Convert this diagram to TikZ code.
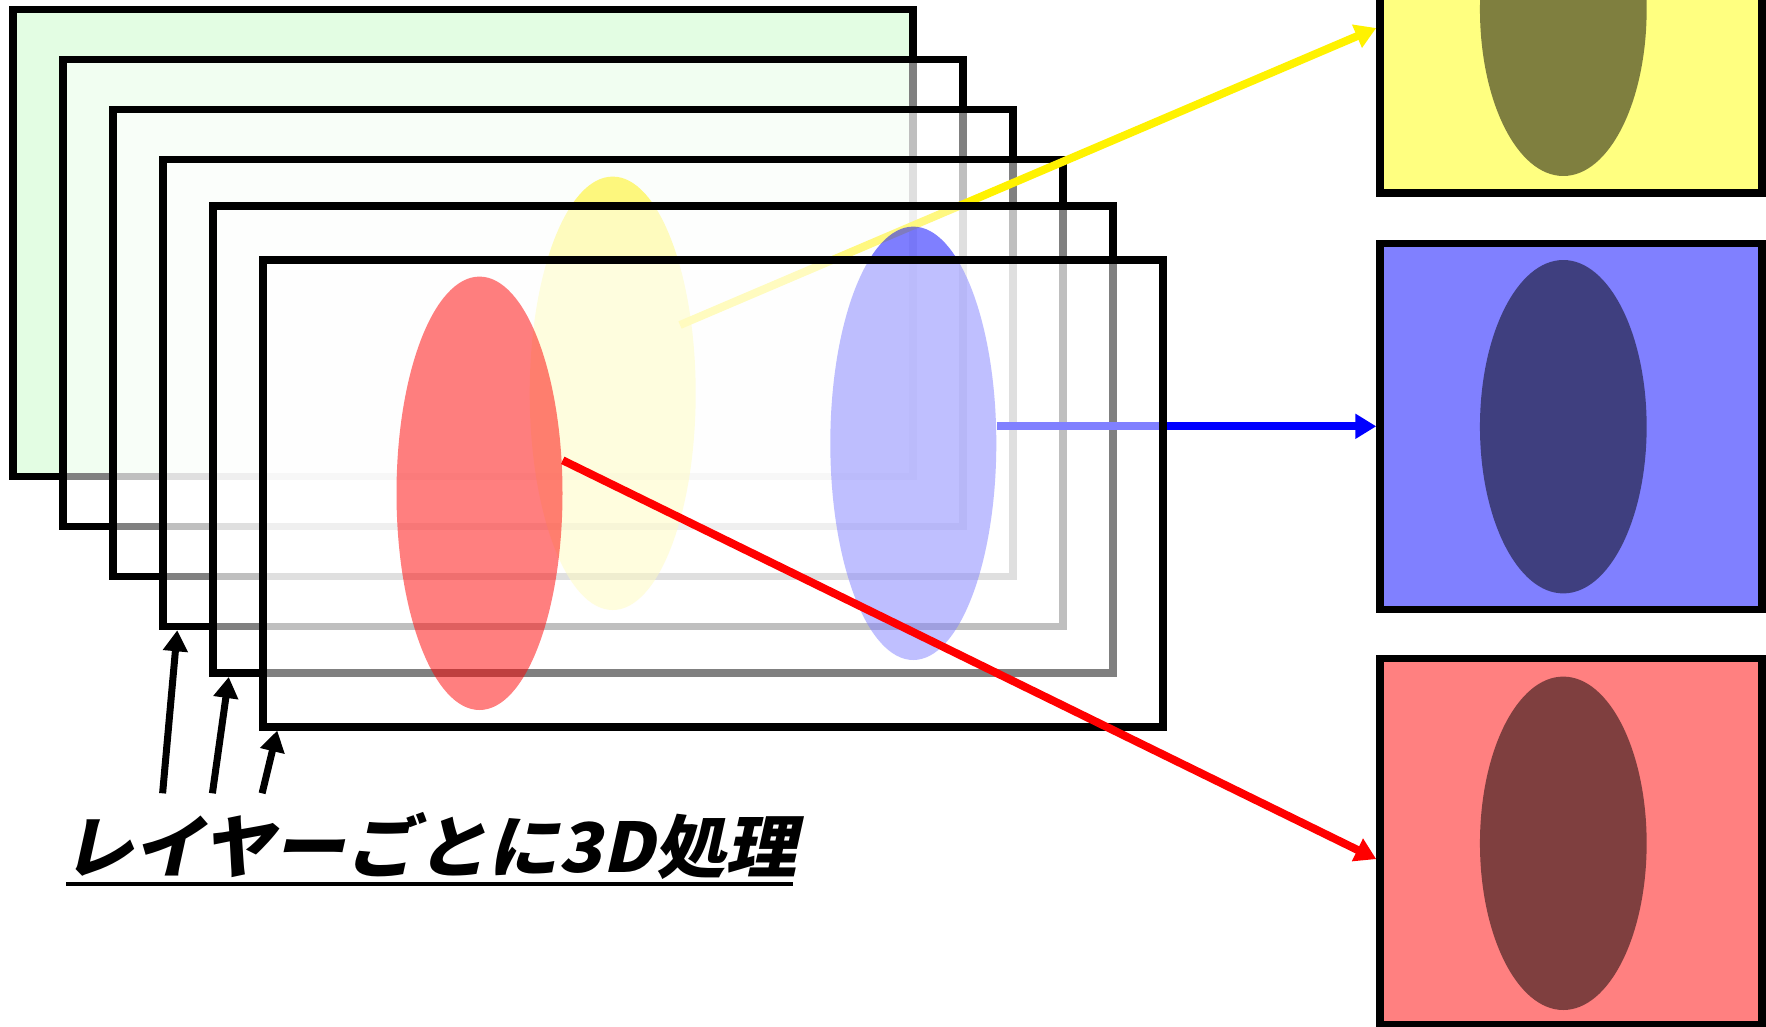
\documentclass[tikz,border=0pt]{standalone}
\usepackage{fontspec}
\newfontfamily\jpfont[FakeSlant=0.22, FakeStretch=1.04]{Noto Sans CJK JP}
\usetikzlibrary{arrows.meta,calc,shapes.geometric}
\definecolor{frgreen}{HTML}{E3FDE3}
\begin{document}
\begin{tikzpicture}[x=1pt,y=-1pt,
  layer/.style={draw=black, line width=7.5pt, minimum width=900pt, minimum height=467pt,
    inner sep=0pt, fill=white, fill opacity=0.5},
  blob/.style={ellipse, draw=none, inner sep=0pt, minimum width=166pt, minimum height=433.4pt, fill opacity=0.5},
  outbox/.style={rectangle, draw=black, line width=7.5pt, minimum width=382pt, minimum height=366pt, inner sep=0pt},
  shade/.style={ellipse, draw=none, inner sep=0pt, minimum width=166.7pt, minimum height=333.4pt, fill=black, fill opacity=0.5},
  carrow/.style={line width=8pt, -{Triangle[length=21pt,width=24pt]}},
  karrow/.style={line width=7pt, black, -{Triangle[length=21pt,width=24pt]}}]
\useasboundingbox (0,0) rectangle (1766,1027);
\clip (0,0) rectangle (1766,1027);
% layers
\node[layer, fill=frgreen, fill opacity=1] (f1) at (463,242.8) {};
\node[layer] (f2) at (513,293) {};
\node[layer] (f3) at (563,343) {};
\node[layer] (f4) at (613,393) {};
\node[blob, fill=yellow] (yell) at (612.7,393.3) {};
\coordinate (ys) at (680,325);
\node[outbox, fill={rgb,255:red,255;green,255;blue,128}] (ybox) at (1571,10) {};
\draw[carrow, yellow] (ys) -- ($(ybox.west)+(0,18)$);
\node[layer] (f5) at (663,439.7) {};
\node[blob, fill=blue] (bell) at (913.3,443.3) {};
\node[outbox, fill={rgb,255:red,128;green,128;blue,255}] (bbox) at (1571,426.3) {};
\draw[carrow, blue] (bell.east |- bbox.west) -- (bbox.west);
\node[layer] (f6) at (713,493.3) {};
\node[blob, fill=red] (rell) at (479.5,493.3) {};
\node[outbox, fill={rgb,255:red,255;green,128;blue,128}] (rbox) at (1571,841.6) {};
\coordinate (rs) at ($(rell.east)+(0,-33)$);
\draw[carrow, red] (rs) -- ($(rbox.west)+(0,17.5)$);
% shaded results
\node[shade] (ysh) at (1563.3,9.3) {};
\node[shade] (bsh) at (1563.3,426.7) {};
\node[shade] (rsh) at (1563.3,843.3) {};
% label
\node[anchor=base west, inner sep=0pt] (lbl) at (62,872)
  {\jpfont\bfseries\fontsize{68.5}{78}\selectfont レイヤーごとに3D処理};
\draw[line width=4pt] (66,884) -- (793,884);
% pointer arrows
\coordinate (k4) at (162.6,793.3);
\coordinate (k5) at (212.4,793.3);
\coordinate (k6) at (262.1,793.3);
\draw[karrow] (k4) -- ($(f4.south west)+(18,0)$);
\draw[karrow] (k5) -- ($(f5.south west)+(19.5,0)$);
\draw[karrow] (k6) -- ($(f6.south west)+(18,0)$);
\end{tikzpicture}
\end{document}
